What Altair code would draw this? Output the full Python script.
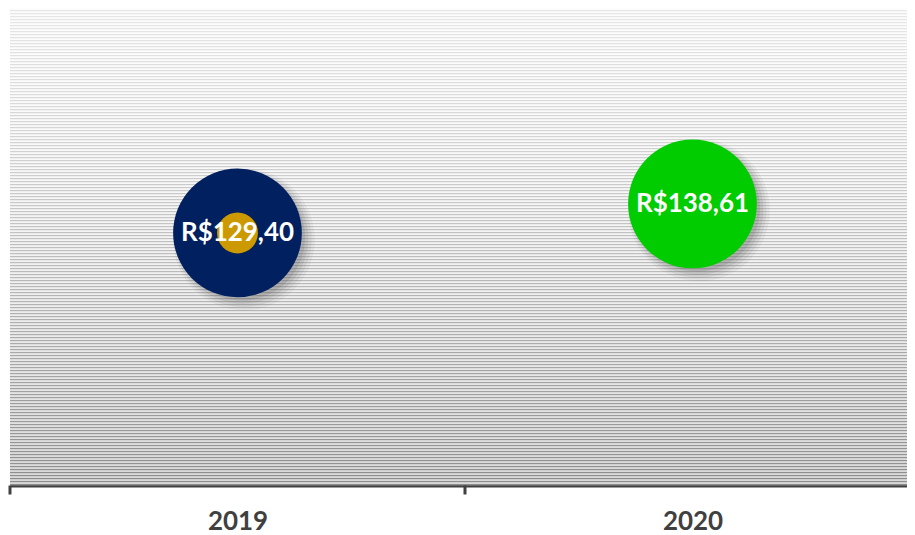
import altair as alt
import pandas as pd

# ---- data ----
years = [2019, 2020]
values = [129.40, 138.61]
labels = ["R$129,40", "R$138,61"]
bubble_colors = ["#002060", "#00CC00"]
inner_years = [2019]
inner_values = [129.40]
inner_colors = ["#CC9900"]
tick_positions = [2018.5, 2019.5]   # category boundaries

df = pd.DataFrame({"year": years, "value": values, "label": labels, "color": bubble_colors})
df_inner = pd.DataFrame({"year": inner_years, "value": inner_values, "color": inner_colors})
df_ticks = pd.DataFrame({"pos": tick_positions})

# ---- style ----
W, H = 899, 478
FONT = "Lato"
BIG = 129 * 129     # circle diameter^2
SMALL = 41 * 41
BAND = 456          # px per category


def hexlerp(a, b, t):
    a = [int(a[i:i + 2], 16) for i in (1, 3, 5)]
    b = [int(b[i:i + 2], 16) for i in (1, 3, 5)]
    c = [round(a[k] + (b[k] - a[k]) * t) for k in range(3)]
    return "#%02x%02x%02x" % tuple(c)


def circle_path(cx, cy, r):
    return (f"M {cx + r},{cy} A {r},{r} 0 1,1 {cx - r},{cy} "
            f"A {r},{r} 0 1,1 {cx + r},{cy} Z")


n = H // 3
rows = []
for i in range(n):
    t = i / (n - 1)
    rows.append({"s0": i, "s1": i + 0.5, "c": hexlerp("#fcfcfc", "#d8d8d8", t ** 2)})
    rows.append({"s0": i + 0.5, "s1": i + 1, "c": hexlerp("#e6e6e6", "#8c8c8c", t ** 1.2)})
stripe_df = pd.DataFrame(rows)

xscale = alt.Scale(domain=[2018.5, 2018.5 + W / BAND], nice=False, zero=False)
yscale = alt.Scale(domain=[49, 200.8], nice=False, zero=False)

x_axis = alt.Axis(
    values=years,
    format="d",
    labelAngle=0,
    labelFont=FONT,
    labelFontSize=26,
    labelFontWeight="bold",
    labelColor="#404040",
    labelPadding=23,
    domainColor="#404040",
    domainWidth=3,
    ticks=False,
    grid=False,
    title=None,
)

background = alt.Chart(stripe_df).mark_rect(strokeWidth=0).encode(
    x=alt.value(0),
    x2=alt.value(W),
    y=alt.Y("s0:Q", scale=alt.Scale(domain=[n, 0], nice=False, zero=False), axis=None),
    y2="s1:Q",
    color=alt.Color("c:N", scale=None),
)

shadows = []
for off, r, op in [(0.10, 1.10, 0.07), (0.09, 1.06, 0.10), (0.08, 1.02, 0.14), (0.07, 0.98, 0.18)]:
    shadows.append(
        alt.Chart(df).mark_point(
            shape=circle_path(off, off, r), size=BIG, filled=True,
            color="#5a5a5a", opacity=op, strokeWidth=0,
        ).encode(
            x=alt.X("year:Q", scale=xscale, axis=x_axis),
            y=alt.Y("value:Q", scale=yscale, axis=None),
        )
    )

bubbles = alt.Chart(df).mark_circle(size=BIG, opacity=1).encode(
    x=alt.X("year:Q"),
    y=alt.Y("value:Q"),
    color=alt.Color("color:N", scale=None),
)

inner = alt.Chart(df_inner).mark_circle(size=SMALL, opacity=1).encode(
    x=alt.X("year:Q"),
    y=alt.Y("value:Q"),
    color=alt.Color("color:N", scale=None),
)

text = alt.Chart(df).mark_text(
    font=FONT, fontSize=26, fontWeight="bold", color="white", baseline="middle"
).encode(
    x=alt.X("year:Q"),
    y=alt.Y("value:Q"),
    text="label:N",
)

ticks = alt.Chart(df_ticks).mark_rule(color="#404040", strokeWidth=3).encode(
    x=alt.X("pos:Q"),
    y=alt.value(H),
    y2=alt.value(H + 9),
)

fg = alt.layer(*shadows, bubbles, inner, text, ticks)

chart = (
    alt.layer(background, fg)
    .resolve_scale(y="independent")
    .properties(width=W, height=H, padding=0)
    .configure_view(strokeWidth=0)
)

chart.save("out.html", embed_options={"renderer": "svg", "actions": False})
